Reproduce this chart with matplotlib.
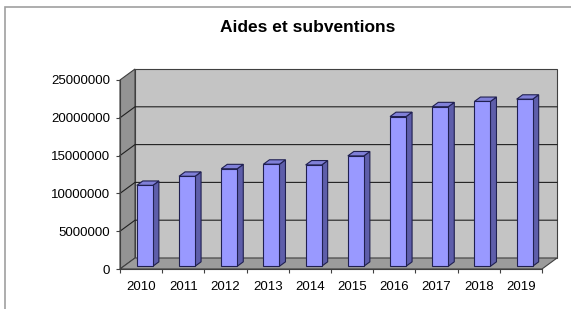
import matplotlib
matplotlib.use("Agg")
from matplotlib import pyplot as plt
from matplotlib.patches import Polygon, Rectangle
import numpy as np

years = ["2010", "2011", "2012", "2013", "2014", "2015", "2016", "2017", "2018", "2019"]
values = [10700000, 11900000, 12900000, 13500000, 13400000, 14600000, 19800000, 21100000, 21800000, 22100000]
yticks = [0, 5000000, 10000000, 15000000, 20000000, 25000000]
title = "Aides et subventions"

plt.rcParams['font.family'] = ['Liberation Sans', 'DejaVu Sans']

W, H = 571, 309
fig = plt.figure(figsize=(W / 100, H / 100), dpi=100)

# front plane of the 3d box in pixels
left_px, right_px, top_px, bot_px = 120, 542, 80, 269
ax = fig.add_axes([left_px / W, 1 - bot_px / H, (right_px - left_px) / W, (bot_px - top_px) / H])
n = len(years)
ymax = yticks[-1]
ax.set_xlim(-0.5, n - 0.5)
ax.set_ylim(0, ymax)

# depth offset (oblique projection) in data units
ddx = 15 * n / (right_px - left_px)
ddy = 11 * ymax / (bot_px - top_px)

x0, x1 = -0.5, n - 0.5
edge = "#404040"

# back wall
ax.add_patch(Polygon([(x0 + ddx, ddy), (x1 + ddx, ddy), (x1 + ddx, ymax + ddy), (x0 + ddx, ymax + ddy)],
                     closed=True, facecolor="#c4c4c4", edgecolor=edge, lw=0.8, clip_on=False, zorder=1))
# side wall
ax.add_patch(Polygon([(x0, 0), (x0, ymax), (x0 + ddx, ymax + ddy), (x0 + ddx, ddy)],
                     closed=True, facecolor="#939393", edgecolor=edge, lw=0.8, clip_on=False, zorder=1))
# gridlines
for v in yticks[1:-1]:
    ax.plot([x0, x0 + ddx, x1 + ddx], [v, v + ddy, v + ddy], color="#202020", lw=0.8,
            clip_on=False, zorder=1.5)
# floor
ax.add_patch(Polygon([(x0, 0), (x1, 0), (x1 + ddx, ddy), (x0 + ddx, ddy)],
                     closed=True, facecolor="#9c9c9c", edgecolor=edge, lw=0.8, clip_on=False, zorder=1.6))

# bars
bw = 0.38
zf, zb = 0.25, 0.65
for i, v in enumerate(values):
    xl = i - bw / 2 + zf * ddx
    xr = xl + bw
    yb = zf * ddy
    sx = (zb - zf) * ddx
    sy = (zb - zf) * ddy
    front = Polygon([(xl, yb), (xr, yb), (xr, yb + v), (xl, yb + v)], closed=True,
                    facecolor="#9999ff", edgecolor="#202050", lw=0.8, clip_on=False, zorder=3)
    side = Polygon([(xr, yb), (xr + sx, yb + sy), (xr + sx, yb + sy + v), (xr, yb + v)], closed=True,
                   facecolor="#5e5eaa", edgecolor="#202050", lw=0.8, clip_on=False, zorder=3)
    top = Polygon([(xl, yb + v), (xr, yb + v), (xr + sx, yb + sy + v), (xl + sx, yb + sy + v)], closed=True,
                  facecolor="#8080d8", edgecolor="#202050", lw=0.8, clip_on=False, zorder=3)
    ax.add_patch(side)
    ax.add_patch(top)
    ax.add_patch(front)

ax.set_facecolor("none")
for s in ["top", "right"]:
    ax.spines[s].set_visible(False)
for s in ["left", "bottom"]:
    ax.spines[s].set_color(edge)
    ax.spines[s].set_linewidth(0.8)
    ax.spines[s].set_zorder(4)

ax.set_yticks(yticks)
ax.set_yticklabels([str(t) for t in yticks])
ax.tick_params(axis="y", length=3, width=0.8, color=edge, pad=4, labelsize=9.5)
ax.set_xticks(range(n))
ax.set_xticklabels(years)
ax.set_xticks(np.arange(n + 1) - 0.5, minor=True)
ax.tick_params(axis="x", which="major", length=0, pad=9, labelsize=9.5)
ax.tick_params(axis="x", which="minor", length=3, width=0.8, color=edge)

fig.text(308 / W, 1 - 28 / H, title, ha="center", va="center", fontsize=12.5, fontweight="bold")

# outer chart frame
fig.add_artist(Rectangle((4.5 / W, -0.1), 1.2, (H - 6.5) / H + 0.1, transform=fig.transFigure,
                         facecolor="none", edgecolor="#a0a0a0", lw=1.2))

fig.savefig("out.png", dpi=100)
